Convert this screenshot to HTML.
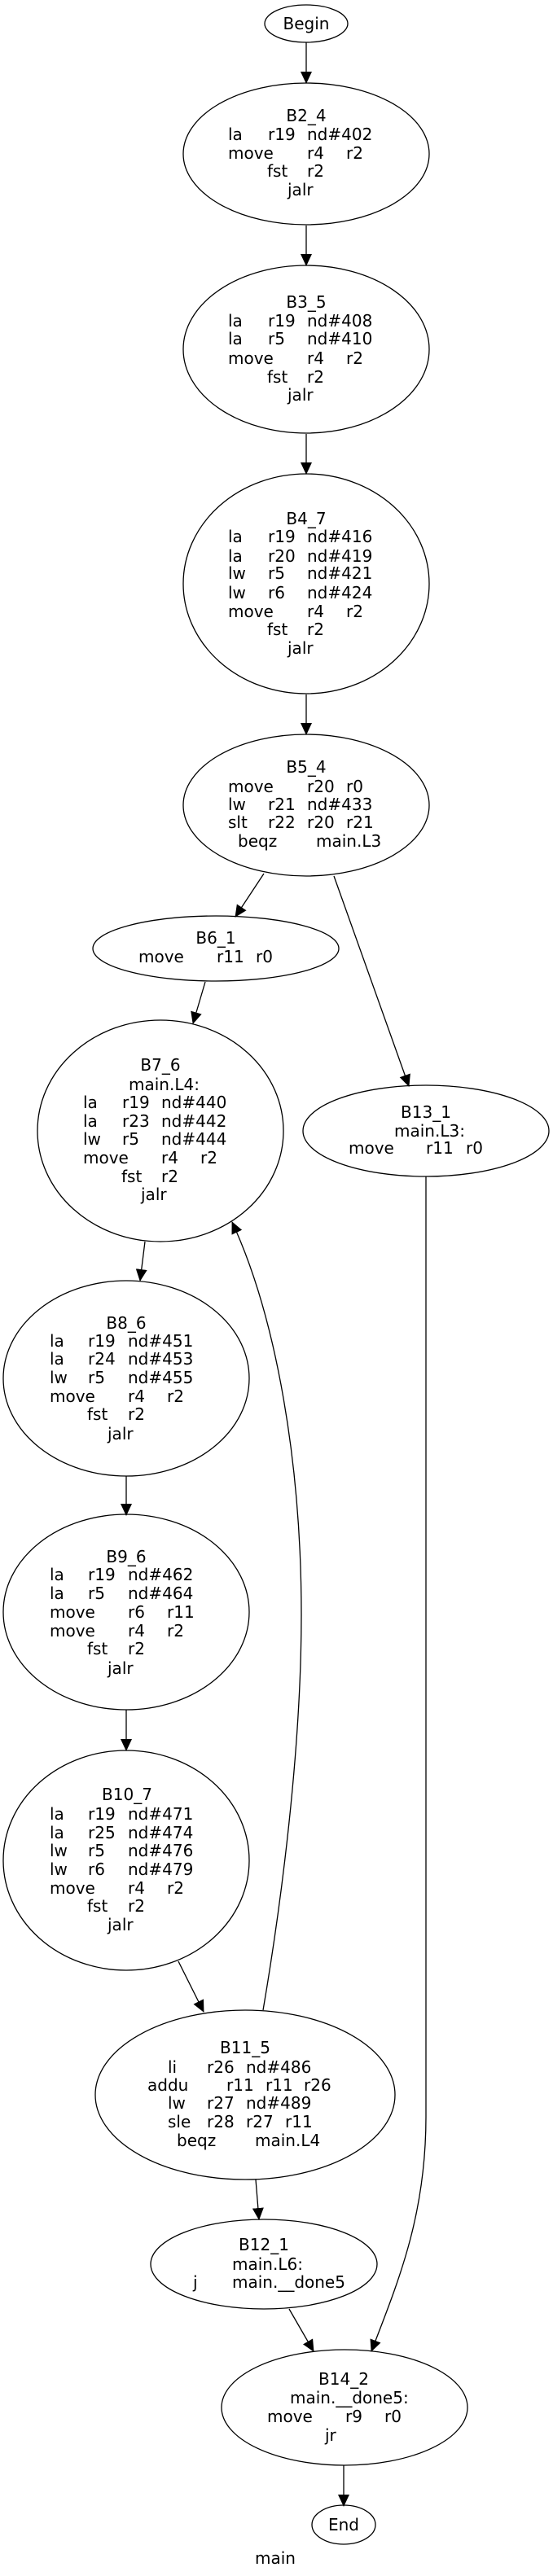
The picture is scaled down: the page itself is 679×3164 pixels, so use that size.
<!DOCTYPE html>
<html><head><meta charset="utf-8"><style>
html,body{margin:0;padding:0;background:#fff}
svg{display:block}
text{font-family:"DejaVu Sans","Liberation Sans",sans-serif;font-size:20px;fill:#000;dominant-baseline:central}
.c{text-anchor:middle}
</style></head><body>
<svg width="679" height="3164" viewBox="0 0 679 3164" xmlns="http://www.w3.org/2000/svg">
<defs><marker id="a" markerUnits="userSpaceOnUse" markerWidth="15" markerHeight="14" refX="14" refY="7" orient="auto"><path d="M0,0 L15,7 L0,14 z" fill="#000"/></marker></defs>
<g fill="none" stroke="#000" stroke-width="1.3">
<ellipse cx="376" cy="29" rx="51" ry="23"/>
<ellipse cx="376" cy="189" rx="151" ry="87"/>
<ellipse cx="376" cy="429" rx="151" ry="103"/>
<ellipse cx="376" cy="717" rx="151" ry="135"/>
<ellipse cx="376" cy="989" rx="151" ry="87"/>
<ellipse cx="265" cy="1165" rx="151" ry="40"/>
<ellipse cx="197" cy="1389" rx="151" ry="136"/>
<ellipse cx="523" cy="1389" rx="151" ry="56"/>
<ellipse cx="155" cy="1693" rx="151" ry="120"/>
<ellipse cx="155" cy="1980" rx="151" ry="120"/>
<ellipse cx="155" cy="2285" rx="151" ry="135"/>
<ellipse cx="301" cy="2573" rx="184" ry="104"/>
<ellipse cx="324" cy="2781" rx="139" ry="55"/>
<ellipse cx="423" cy="2957" rx="151" ry="71"/>
<ellipse cx="422" cy="3101" rx="39" ry="24"/>
<g marker-end="url(#a)">
<line x1="376" y1="52" x2="376" y2="102"/>
<line x1="376" y1="277" x2="376" y2="326"/>
<line x1="376" y1="533" x2="376" y2="582"/>
<line x1="376" y1="853" x2="376" y2="902"/>
<line x1="324" y1="1073" x2="289" y2="1126"/>
<line x1="410" y1="1076" x2="502" y2="1334"/>
<line x1="252" y1="1206" x2="237" y2="1257"/>
<line x1="178" y1="1525" x2="172" y2="1573"/>
<line x1="155" y1="1813" x2="155" y2="1861"/>
<line x1="155" y1="2100" x2="155" y2="2150"/>
<line x1="219" y1="2409" x2="250" y2="2471"/>
<line x1="314" y1="2677" x2="318" y2="2726"/>
<line x1="355" y1="2836" x2="385" y2="2888"/>
<line x1="422" y1="3028" x2="422" y2="3078"/>
<path d="M323,2469 C345,2340 370,2150 370,1983 C370,1800 340,1620 285,1501"/>
<path d="M523,1445 L523,2600 C523,2720 490,2800 456,2888"/>
</g>
</g>
<text class="c" x="376" y="29">Begin</text>
<text class="c" x="376" y="142">B2_4</text>
<text x="280" y="165">la</text><text x="329" y="165">r19</text><text x="377" y="165">nd#402</text>
<text x="280" y="188">move</text><text x="377" y="188">r4</text><text x="425" y="188">r2</text>
<text x="328" y="210">fst</text><text x="377" y="210">r2</text>
<text x="353" y="233">jalr</text>

<text class="c" x="376" y="371">B3_5</text>
<text x="280" y="394">la</text><text x="329" y="394">r19</text><text x="377" y="394">nd#408</text>
<text x="280" y="416">la</text><text x="329" y="416">r5</text><text x="377" y="416">nd#410</text>
<text x="280" y="440">move</text><text x="377" y="440">r4</text><text x="425" y="440">r2</text>
<text x="328" y="463">fst</text><text x="377" y="463">r2</text>
<text x="353" y="485">jalr</text>

<text class="c" x="376" y="637">B4_7</text>
<text x="280" y="659">la</text><text x="329" y="659">r19</text><text x="377" y="659">nd#416</text>
<text x="280" y="683">la</text><text x="329" y="683">r20</text><text x="377" y="683">nd#419</text>
<text x="280" y="704">lw</text><text x="329" y="704">r5</text><text x="377" y="704">nd#421</text>
<text x="280" y="728">lw</text><text x="329" y="728">r6</text><text x="377" y="728">nd#424</text>
<text x="280" y="751">move</text><text x="377" y="751">r4</text><text x="425" y="751">r2</text>
<text x="328" y="773">fst</text><text x="377" y="773">r2</text>
<text x="353" y="796">jalr</text>

<text class="c" x="376" y="942">B5_4</text>
<text x="280" y="966">move</text><text x="377" y="966">r20</text><text x="425" y="966">r0</text>
<text x="280" y="988">lw</text><text x="329" y="988">r21</text><text x="377" y="988">nd#433</text>
<text x="280" y="1010">slt</text><text x="329" y="1010">r22</text><text x="377" y="1010">r20</text><text x="425" y="1010">r21</text>
<text x="292" y="1033">beqz</text><text x="388" y="1033">main.L3</text>

<text class="c" x="265" y="1152">B6_1</text>
<text x="170" y="1175">move</text><text x="266" y="1175">r11</text><text x="314" y="1175">r0</text>

<text class="c" x="197" y="1308">B7_6</text>
<text x="158" y="1332">main.L4:</text>
<text x="102" y="1354">la</text><text x="150" y="1354">r19</text><text x="198" y="1354">nd#440</text>
<text x="102" y="1377">la</text><text x="150" y="1377">r23</text><text x="198" y="1377">nd#442</text>
<text x="102" y="1399">lw</text><text x="150" y="1399">r5</text><text x="198" y="1399">nd#444</text>
<text x="102" y="1422">move</text><text x="198" y="1422">r4</text><text x="246" y="1422">r2</text>
<text x="149" y="1445">fst</text><text x="198" y="1445">r2</text>
<text x="173" y="1467">jalr</text>

<text class="c" x="523" y="1366">B13_1</text>
<text x="484" y="1389">main.L3:</text>
<text x="428" y="1410">move</text><text x="523" y="1410">r11</text><text x="572" y="1410">r0</text>

<text class="c" x="155" y="1625">B8_6</text>
<text x="61" y="1647">la</text><text x="108" y="1647">r19</text><text x="157" y="1647">nd#451</text>
<text x="61" y="1669">la</text><text x="108" y="1669">r24</text><text x="157" y="1669">nd#453</text>
<text x="61" y="1692">lw</text><text x="108" y="1692">r5</text><text x="157" y="1692">nd#455</text>
<text x="61" y="1715">move</text><text x="157" y="1715">r4</text><text x="205" y="1715">r2</text>
<text x="107" y="1737">fst</text><text x="157" y="1737">r2</text>
<text x="132" y="1761">jalr</text>

<text class="c" x="155" y="1912">B9_6</text>
<text x="61" y="1934">la</text><text x="108" y="1934">r19</text><text x="157" y="1934">nd#462</text>
<text x="61" y="1957">la</text><text x="108" y="1957">r5</text><text x="157" y="1957">nd#464</text>
<text x="61" y="1980">move</text><text x="157" y="1980">r6</text><text x="205" y="1980">r11</text>
<text x="61" y="2003">move</text><text x="157" y="2003">r4</text><text x="205" y="2003">r2</text>
<text x="107" y="2025">fst</text><text x="157" y="2025">r2</text>
<text x="132" y="2049">jalr</text>

<text class="c" x="156" y="2204">B10_7</text>
<text x="61" y="2228">la</text><text x="108" y="2228">r19</text><text x="157" y="2228">nd#471</text>
<text x="61" y="2251">la</text><text x="108" y="2251">r25</text><text x="157" y="2251">nd#474</text>
<text x="61" y="2273">lw</text><text x="108" y="2273">r5</text><text x="157" y="2273">nd#476</text>
<text x="61" y="2296">lw</text><text x="108" y="2296">r6</text><text x="157" y="2296">nd#479</text>
<text x="61" y="2319">move</text><text x="157" y="2319">r4</text><text x="205" y="2319">r2</text>
<text x="107" y="2341">fst</text><text x="157" y="2341">r2</text>
<text x="132" y="2364">jalr</text>

<text class="c" x="301" y="2515">B11_5</text>
<text x="206" y="2539">li</text><text x="254" y="2539">r26</text><text x="302" y="2539">nd#486</text>
<text x="181" y="2561">addu</text><text x="278" y="2561">r11</text><text x="326" y="2561">r11</text><text x="373" y="2561">r26</text>
<text x="206" y="2583">lw</text><text x="254" y="2583">r27</text><text x="302" y="2583">nd#489</text>
<text x="206" y="2606">sle</text><text x="254" y="2606">r28</text><text x="302" y="2606">r27</text><text x="350" y="2606">r11</text>
<text x="217" y="2629">beqz</text><text x="313" y="2629">main.L4</text>

<text class="c" x="324" y="2757">B12_1</text>
<text x="285" y="2781">main.L6:</text>
<text x="237" y="2803">j</text><text x="285" y="2803">main.__done5</text>

<text class="c" x="422" y="2922">B14_2</text>
<text x="356" y="2945">main.__done5:</text>
<text x="328" y="2968">move</text><text x="424" y="2968">r9</text><text x="472" y="2968">r0</text>
<text x="399" y="2991">jr</text>

<text class="c" x="422" y="3101">End</text>
<text class="c" x="338" y="3142">main</text>
</svg>
</body></html>
